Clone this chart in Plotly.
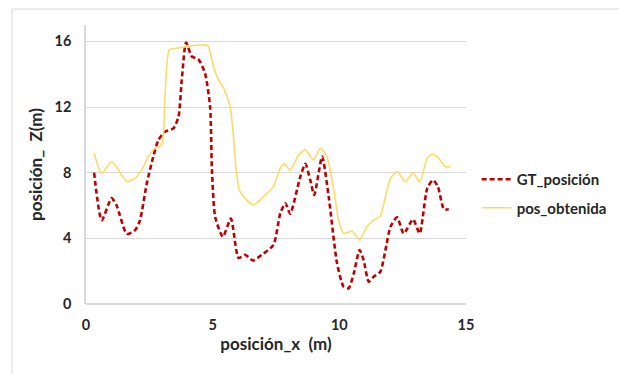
import plotly.graph_objects as go

# Ground-truth trajectory (posición_x vs posición_Z)
gt_x = [0.32, 0.62, 1.01, 1.21, 1.61, 1.94, 2.13, 2.40, 2.66, 2.86, 3.12, 3.45, 3.65,
        3.78, 3.95, 4.18, 4.44, 4.70, 4.90, 4.97, 5.10, 5.40, 5.72, 6.02, 6.28, 6.59,
        6.94, 7.40, 7.67, 7.87, 8.06, 8.46, 8.66, 8.85, 9.01, 9.32, 9.58, 9.91, 10.17,
        10.37, 10.57, 10.80, 10.96, 11.16, 11.36, 11.62, 11.82, 12.02, 12.28, 12.54,
        12.91, 13.17, 13.47, 13.70, 13.89, 14.13, 14.32]
gt_z = [8.0, 5.1, 6.45, 6.0, 4.27, 4.5, 5.1, 7.35, 9.0, 10.0, 10.5, 10.7, 11.4,
        13.65, 15.93, 15.08, 14.9, 14.05, 12.0, 8.2, 5.3, 4.1, 5.2, 2.8, 3.0, 2.65,
        3.0, 3.6, 5.53, 6.14, 5.5, 7.76, 8.54, 7.56, 6.65, 8.98, 6.54, 2.48, 1.05,
        0.96, 1.87, 3.29, 2.68, 1.36, 1.67, 1.97, 3.29, 4.71, 5.28, 4.3,
        5.16, 4.3, 7.05, 7.56, 7.15, 5.77, 5.77]

# Estimated trajectory
est_x = [0.32, 0.62, 1.01, 1.28, 1.61, 1.94, 2.20, 2.46, 2.73, 2.99, 3.12, 3.29, 3.58,
         4.11, 4.70, 4.83, 5.03, 5.23, 5.43, 5.69, 5.82, 5.93, 6.05, 6.22, 6.61, 7.01,
         7.40, 7.67, 7.83, 8.06, 8.39, 8.66, 8.98, 9.25, 9.51, 9.78, 9.97, 10.17, 10.50,
         10.80, 11.09, 11.36, 11.62, 11.82, 12.02, 12.28, 12.61, 12.91, 13.17, 13.47,
         13.66, 13.86, 14.19, 14.39]
est_z = [9.19, 7.97, 8.68, 8.17, 7.46, 7.66, 8.17, 8.98, 9.5, 9.7, 12.64, 15.5, 15.58,
         15.73, 15.79, 15.69, 14.47, 13.66, 13.15, 12.03, 10.2, 8.17, 6.95, 6.54, 6.04, 6.54,
         7.15, 8.27, 8.54, 8.17, 9.08, 9.39, 8.78, 9.49, 8.98, 6.95, 5.12, 4.3, 4.45,
         3.9, 4.71, 5.12, 5.37, 6.54, 7.66, 8.07, 7.46, 8.0, 7.42, 8.88,
         9.12, 8.98, 8.37, 8.37]

x_ticks = [0, 5, 10, 15]
y_ticks = [0, 4, 8, 12, 16]

FONT = "Lato"
TEXT = "#262626"
GRID = "#d9d9d9"

fig = go.Figure()
fig.add_trace(go.Scatter(
    x=gt_x, y=gt_z, mode="lines", name="GT_posición",
    line=dict(color="#c00000", width=2.6, dash="5px,3px", shape="spline", smoothing=0.6),
    legendgroup="a",
))
fig.add_trace(go.Scatter(
    x=est_x, y=est_z, mode="lines", name="pos_obtenida",
    line=dict(color="#ffd966", width=1.6, shape="spline", smoothing=0.6),
    legendgroup="b",
))

fig.update_layout(
    width=619, height=374,
    # fixed plot area; the legend sits in the right-hand margin
    margin=dict(l=86, r=153, t=25, b=70, autoexpand=False),
    paper_bgcolor="white", plot_bgcolor="white",
    font=dict(family=FONT, size=13, color=TEXT, weight="bold"),
    showlegend=True,
    legend=dict(
        x=1.028, y=0.396, xanchor="left", yanchor="middle",
        font=dict(family=FONT, size=15, color=TEXT, weight="bold"),
        tracegroupgap=6, traceorder="grouped",
        bgcolor="rgba(0,0,0,0)",
    ),
    xaxis=dict(
        range=[0, 15], tickvals=x_ticks, showgrid=False, zeroline=False,
        showline=False, ticks="", ticklabelstandoff=10,
        tickfont=dict(family=FONT, size=14.5, color=TEXT, weight="bold"),
        title=dict(text="posición_x\u00a0\u00a0(m)", standoff=6,
                   font=dict(family=FONT, size=17, color=TEXT, weight="bold")),
    ),
    yaxis=dict(
        range=[0, 17], tickvals=y_ticks, showgrid=True, gridcolor=GRID, gridwidth=1,
        zeroline=True, zerolinecolor=GRID, zerolinewidth=1.5,
        showline=True, linecolor=GRID, linewidth=1.5, ticks="", ticklabelstandoff=10,
        tickfont=dict(family=FONT, size=14.5, color=TEXT, weight="bold"),
        title=dict(text="posición_\u00a0\u00a0Z(m)", standoff=8,
                   font=dict(family=FONT, size=17, color=TEXT, weight="bold")),
    ),
    shapes=[dict(
        type="rect", xref="paper", yref="paper",
        x0=-0.195, x1=1.6, y0=-0.5, y1=1.057,
        line=dict(color=GRID, width=1), fillcolor="rgba(0,0,0,0)", layer="below",
    )],
)

fig.write_html("out.html")
